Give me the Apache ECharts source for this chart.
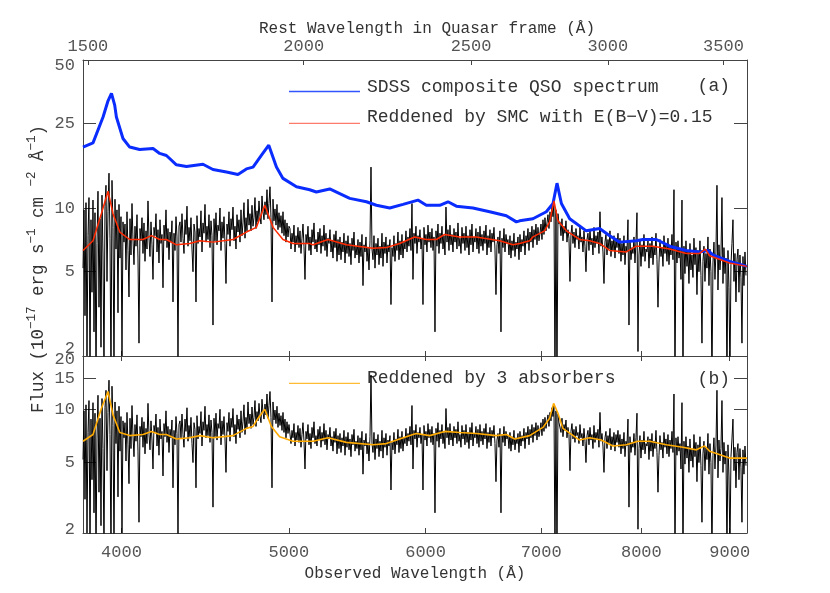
<!DOCTYPE html>
<html><head><meta charset="utf-8">
<script src="https://cdn.jsdelivr.net/npm/echarts@6/dist/echarts.min.js"></script>
<style>html,body{margin:0;padding:0;background:#fff}#c{width:830px;height:593px}</style>
</head><body><div id="c"></div>
<script>
// ---------- data ----------
const zQSO = 1.55;
const obsMin = 3800, obsMax = 9210;
const obsTicks = [4000, 5000, 6000, 7000, 8000, 9000];
const restTicks = [1500, 2000, 2500, 3000, 3500];
const fluxTicksA = [2, 5, 10, 25, 50];
const fluxTicksB = [2, 5, 10, 15, 20];

// SDSS composite QSO spectrum (blue)
const compWave = [3800,3851,3903,3929,3947,3964,3973,4008,4044,4098,4172,4209,4247,4304,4362,4459,4519,4601,4672,4725,4767,4820,4868,4918,4961,5051,5141,5187,5280,5423,5545,5619,5720,5822,5939,6006,6114,6182,6251,6391,6535,6682,6772,6802,6923,7048,7111,7149,7191,7271,7434,7567,7669,7771,7946,8017,8161,8307,8494,8646,8742,8801,8999,9210];
const compFlux = [19.4,20.3,26.9,32.1,34.8,30.6,26.9,21.3,19.4,18.9,19.1,18.1,17.7,16.0,15.7,16.1,15.2,14.8,14.4,15.3,15.6,17.7,19.8,15.6,13.8,12.6,12.2,11.9,12.3,11.1,10.7,10.3,10.0,10.4,10.9,10.3,10.3,10.7,10.2,10.0,9.6,9.2,8.6,8.7,8.9,9.6,10.5,13.1,10.5,8.9,7.8,8.0,7.4,6.9,7.0,7.1,7.1,6.6,6.3,6.2,6.3,6.0,5.6,5.3];

// Reddened by SMC with E(B-V)=0.15 (red)
const smcWave = [3800,3851,3894,3929,3955,3991,4044,4116,4163,4209,4247,4304,4381,4440,4519,4641,4725,4788,4842,4896,4961,5028,5141,5164,5268,5399,5594,5694,5796,5913,6006,6087,6155,6279,6420,6623,6741,6802,6893,6923,7032,7079,7120,7158,7239,7368,7467,7567,7669,7841,7946,8124,8307,8494,8646,8712,8762,8999,9210];
const smcFlux = [6.3,7.0,9.4,12.0,9.4,7.7,7.1,7.1,7.4,7.1,7.1,6.7,6.8,7.0,6.9,7.1,7.7,8.1,10.3,8.1,7.1,6.8,6.8,6.7,7.1,6.7,6.45,6.5,6.8,7.3,7.1,7.1,7.5,7.3,7.3,7.0,6.7,6.8,7.0,7.3,7.8,8.6,10.8,8.7,7.8,7.1,7.0,6.8,6.3,6.2,6.6,6.6,6.4,6.1,6.1,6.4,5.95,5.5,5.3];

// Reddened by 3 absorbers (orange)
const absWave = [3800,3851,3894,3929,3955,3991,4044,4116,4163,4209,4247,4304,4381,4440,4519,4641,4725,4767,4799,4842,4885,4939,5028,5164,5268,5399,5594,5694,5900,5927,6033,6155,6279,6420,6594,6682,6757,6893,7016,7079,7117,7158,7206,7368,7467,7584,7702,7841,7963,8088,8271,8456,8608,8704,8762,8999,9210];
const absFlux = [6.6,7.2,10.1,12.6,9.3,7.4,7.1,7.2,7.5,7.2,7.2,6.8,6.9,7.1,6.9,7.1,7.8,8.0,8.9,10.0,8.0,7.0,6.6,6.6,6.9,6.5,6.3,6.4,7.2,7.3,7.1,7.5,7.4,7.3,7.1,7.2,6.8,7.1,7.9,8.9,10.8,9.5,7.8,6.7,6.9,6.7,6.2,6.3,6.6,6.6,6.3,6.1,5.9,6.2,5.8,5.3,5.3];

// Observed quasar spectrum (black), log-uniform wavelength grid
const specStart = 3800, specLogStep = 0.000579;
const specFlux = [
5.2,9.8,3.1,10.6,2.0,7.4,11.2,1.6,8.8,4.0,10.9,2.6,9.5,1.5,6.8,12.0,3.4,
8.9,2.2,11.5,6.0,1.6,10.2,12.8,4.5,9.6,14.6,7.2,1.5,13.5,8.1,1.6,11.0,6.4,9.8,3.2,10.4,5.8,9.1,2.0,8.6,6.9,
8.4,5.1,9.6,6.3,3.8,8.9,6.0,10.5,7.1,5.4,8.2,6.6,9.3,5.8,2.3,8.0,7.0,9.0,6.1,8.5,
5.6,7.8,6.4,10.8,7.2,5.9,8.6,6.7,4.6,8.1,7.4,9.4,6.2,7.9,5.5,8.8,6.8,7.5,4.2,8.3,
7.0,9.8,6.5,8.0,5.7,7.7,6.9,8.7,3.6,7.6,6.3,9.1,7.3,1.9,8.2,
8.6,6.9,9.4,7.2,6.1,8.8,7.5,10.2,6.6,8.1,7.0,9.0,6.4,5.0,8.4,7.7,3.6,9.2,6.8,8.0,
7.3,9.7,6.2,8.5,7.6,10.4,6.9,8.2,7.1,9.3,6.5,8.7,7.4,2.8,8.9,7.0,9.5,6.7,8.3,7.8,
10.0,6.3,8.6,7.2,9.1,6.8,4.4,8.4,7.5,9.6,6.6,8.9,7.9,10.1,7.0,8.2,6.4,9.3,7.7,8.8,
6.9,9.8,7.4,8.5,10.6,7.2,9.0,7.8,11.0,8.3,
9.4,7.8,10.3,8.2,9.0,11.2,8.0,9.7,8.6,10.8,9.1,8.4,11.4,9.6,8.8,10.7,9.3,12.2,8.9,10.5,
12.6,9.0,3.6,11.0,8.7,9.9,8.3,10.4,7.9,9.5,8.1,9.2,7.6,9.6,7.4,8.8,6.9,8.5,7.3,8.2,
8.0,6.4,7.6,6.9,8.3,6.2,7.4,6.7,8.1,6.5,7.8,6.1,7.2,8.4,6.6,4.6,7.5,6.8,8.2,6.3,
7.3,6.0,7.9,6.9,8.5,6.4,7.1,6.2,7.7,6.7,8.0,6.1,7.4,6.6,8.3,6.3,7.6,5.9,7.2,6.8,
7.9,6.2,7.0,5.8,7.5,6.5,7.8,5.6,7.1,6.0,7.3,5.7,6.9,6.2,7.6,5.5,7.0,6.1,7.4,5.9,
6.8,5.4,7.2,6.3,7.7,5.8,6.6,6.0,7.1,5.5,6.9,5.9,7.5,4.3,6.7,6.2,7.3,5.6,6.5,5.1,
7.0,15.6,6.4,5.7,7.4,5.2,6.8,6.0,7.2,5.4,6.6,5.8,7.6,5.3,6.9,6.1,7.3,5.5,6.7,6.2,
7.1,3.5,6.5,5.9,7.4,5.6,6.8,6.3,7.7,5.7,7.0,6.0,7.5,5.8,6.9,6.4,7.8,6.2,7.3,6.6,
8.0,6.3,10.5,4.6,7.6,6.8,8.2,6.1,7.4,6.9,7.9,6.4,7.2,3.5,8.1,6.7,7.5,6.2,8.3,6.9,
7.7,6.5,8.0,6.3,7.3,2.6,7.8,6.6,8.4,6.1,7.6,6.8,8.2,6.4,7.4,6.0,10.1,6.9,7.9,6.3,
8.3,6.7,7.5,6.2,8.0,6.9,7.7,6.4,8.5,6.6,7.2,6.1,8.1,6.8,7.6,6.3,8.2,6.5,7.4,6.0,
7.9,6.7,8.4,6.2,7.3,6.9,8.0,6.4,7.7,6.1,8.2,6.6,7.5,6.3,7.8,6.8,8.3,6.0,7.4,6.5,
7.9,6.2,7.6,6.9,8.1,6.4,3.9,6.7,7.3,6.1,7.8,2.6,7.2,6.5,8.0,6.2,7.5,6.8,7.1,6.0,
7.4,5.8,7.0,6.3,7.6,5.9,6.9,6.4,7.3,5.7,7.5,6.2,7.1,6.6,7.8,6.0,7.4,6.8,8.0,6.3,
7.7,6.9,8.2,6.5,7.9,7.1,8.4,6.7,8.1,7.0,
7.6,8.4,7.1,8.8,7.5,9.0,7.8,8.5,9.3,8.0,9.6,8.6,10.2,9.1,10.6,1.5,9.8,1.5,9.4,8.4,
8.6,7.4,8.9,7.0,8.2,7.6,8.7,6.9,7.9,7.2,4.5,7.5,8.3,6.8,7.7,6.5,8.0,7.1,7.4,6.4,
8.2,6.9,7.3,6.2,7.8,6.6,5.0,7.1,7.6,6.3,7.9,6.7,7.2,6.0,8.1,6.5,7.4,6.8,7.7,6.1,
9.6,6.6,7.3,6.2,4.4,6.9,7.5,6.0,7.1,6.4,7.8,5.9,7.0,6.3,7.4,5.8,7.2,6.5,7.6,6.1,
7.2,5.6,6.8,6.0,7.4,5.4,6.6,6.2,8.8,2.8,7.0,5.7,6.5,6.1,7.3,5.5,6.9,9.5,2.1,6.0,
7.1,5.3,6.7,5.9,7.5,5.6,6.4,6.2,7.0,5.2,6.8,5.8,7.3,5.4,6.6,6.0,7.6,5.7,3.4,5.5,
7.1,5.9,6.5,5.3,7.4,6.1,6.8,5.6,7.2,5.4,6.7,6.0,7.5,5.7,12.2,1.5,6.9,5.5,7.0,5.8,
6.4,4.6,10.9,1.5,6.6,4.9,7.0,5.3,6.2,4.4,6.8,5.1,6.0,4.7,7.2,5.4,6.5,3.9,6.3,5.0,
7.0,4.8,2.3,5.6,6.6,4.5,6.1,5.2,7.3,4.3,6.4,5.0,1.5,5.5,6.9,4.6,6.2,12.8,4.1,6.7,
5.1,6.0,11.2,4.4,6.5,4.9,5.8,1.5,6.3,4.2,1.6,5.4,6.8,8.8,4.5,6.1,3.6,5.7,6.4,4.0,
6.0,4.7,2.3,5.9,4.3,6.2,4.8
];

// ---------- build ----------
const FONT = "'Liberation Mono','Courier New',monospace";
const pair = (w, f) => w.map((x, i) => [x, f[i]]);
const specData = specFlux.map((f, i) => [specStart * Math.pow(10, i * specLogStep), f]);
const compData = pair(compWave, compFlux);
const smcData = pair(smcWave, smcFlux);
const absData = pair(absWave, absFlux);

const AX = '#444', LBL = '#555', TXT = '#333';
const fmtInt = v => String(Math.round(v));
const EPS = 1.00002; // keeps end ticks inside the log extent despite rounding

function xAx(grid, pos, min, max, ticks, showLabel, name, gap, namePad) {
  return {
    gridIndex: grid, type: 'log', logBase: 10, min: min, max: max, position: pos,
    name: name || '', nameLocation: 'middle', nameGap: gap || 0,
    nameTextStyle: { fontFamily: FONT, fontSize: 16, color: TXT, padding: namePad || 0 },
    axisLine: { show: true, lineStyle: { color: AX, width: 1 } },
    axisTick: { show: true, inside: true, length: 5, customValues: ticks, lineStyle: { color: AX } },
    axisLabel: { show: showLabel, customValues: ticks, formatter: fmtInt, margin: pos === 'top' ? 5 : 11,
                 showMinLabel: true, showMaxLabel: true, hideOverlap: false,
                 fontFamily: FONT, fontSize: 17, color: LBL },
    splitLine: { show: false }, minorTick: { show: false }
  };
}
function yAx(grid, pos, min, max, ticks, showLabel, rich, fmt) {
  return {
    gridIndex: grid, type: 'log', logBase: 10, min: min / EPS, max: max * EPS, position: pos,
    axisLine: { show: true, lineStyle: { color: AX, width: 1 } },
    axisTick: { show: true, inside: true, length: 13, customValues: ticks, lineStyle: { color: AX } },
    axisLabel: { show: showLabel, customValues: ticks, formatter: fmt, margin: 8,
                 showMinLabel: true, showMaxLabel: true, hideOverlap: false,
                 fontFamily: FONT, fontSize: 17, color: LBL, rich: rich },
    splitLine: { show: false }, minorTick: { show: false }
  };
}
const richLbl = {
  dn10: { fontFamily: FONT, fontSize: 17, color: LBL, padding: [10, 0, 0, 0] },
  dn6:  { fontFamily: FONT, fontSize: 17, color: LBL, padding: [6, 0, 0, 0] },
  up14: { fontFamily: FONT, fontSize: 17, color: LBL, padding: [0, 0, 14, 0] },
  up6:  { fontFamily: FONT, fontSize: 17, color: LBL, padding: [0, 0, 6, 0] }
};
const fmtA = v => { const r = Math.round(v); if (r === 50) return '{dn10|50}'; if (r === 2) return '{up14|2}'; return String(r); };
const fmtB = v => { const r = Math.round(v); if (r === 20) return '{dn6|20}'; if (r === 2) return '{up6|2}'; return String(r); };

const lineSeries = (name, xi, yi, data, color, width, z) => ({
  name: name, type: 'line', xAxisIndex: xi, yAxisIndex: yi, data: data,
  symbol: 'none', showSymbol: false, silent: true, z: z, clip: true,
  lineStyle: { color: color, width: width }, itemStyle: { color: color }
});

const txt = (x, y, s, size, align) => ({
  type: 'text', x: x, y: y, silent: true,
  style: { text: s, fontFamily: FONT, fontSize: size, fill: TXT, align: align || 'left', verticalAlign: 'middle' }
});
const seg = (x1, x2, y, color, w) => ({
  type: 'line', silent: true, shape: { x1: x1, y1: y, x2: x2, y2: y }, style: { stroke: color, lineWidth: w || 1 }
});

const chart = echarts.init(document.getElementById('c'), null, { renderer: 'canvas' });
chart.setOption({
  animation: false,
  backgroundColor: '#fff',
  grid: [
    { left: 83, top: 60, width: 664, height: 296, containLabel: false, outerBoundsMode: 'none' },
    { left: 83, top: 356, width: 664, height: 177, containLabel: false, outerBoundsMode: 'none' }
  ],
  xAxis: [
    xAx(0, 'bottom', obsMin, obsMax, obsTicks, false),
    xAx(0, 'top', obsMin / (1 + zQSO), obsMax / (1 + zQSO), restTicks, true,
        'Rest Wavelength in Quasar frame (Å)', 23, [0, 0, 0, 24]),
    xAx(1, 'bottom', obsMin, obsMax, obsTicks, true, 'Observed Wavelength (Å)', 33),
    xAx(1, 'top', obsMin, obsMax, obsTicks, false)
  ],
  yAxis: [
    yAx(0, 'left', 2, 50, fluxTicksA, true, richLbl, fmtA),
    yAx(0, 'right', 2, 50, fluxTicksA, false),
    yAx(1, 'left', 2, 20, fluxTicksB, true, richLbl, fmtB),
    yAx(1, 'right', 2, 20, fluxTicksB, false)
  ],
  series: [
    lineSeries('Observed spectrum', 0, 0, specData, '#000', 1, 1),
    lineSeries('SDSS composite QSO spectrum', 0, 0, compData, '#0a2cff', 3, 3),
    lineSeries('Reddened by SMC with E(B−V)=0.15', 0, 0, smcData, '#ff2a00', 1.5, 4),
    lineSeries('Observed spectrum (b)', 2, 2, specData, '#000', 1, 1),
    lineSeries('Reddened by 3 absorbers', 2, 2, absData, '#ffaa00', 1.6, 3)
  ],
  graphic: [
    seg(289, 360, 91.5, '#3355ff', 1.5),
    txt(367, 87, 'SDSS composite QSO spectrum', 18),
    txt(730, 86, '(a)', 18, 'right'),
    seg(289, 360, 123.3, '#ff7a6a', 1.2),
    txt(367, 117, 'Reddened by SMC with E(B−V)=0.15', 18),
    seg(289, 360, 383.3, '#ffbb33', 1.2),
    txt(367, 378, 'Reddened by 3 absorbers', 18),
    txt(730, 379, '(b)', 18, 'right'),
    {
      type: 'text', x: 36, y: 269, rotation: Math.PI / 2, silent: true,
      style: {
        text: '{n|Flux (10}{s|−17}{n| erg s}{s|−1}{n| cm }{s|−2}{n| Å}{s|−1}{n|)}',
        align: 'center', verticalAlign: 'middle',
        rich: {
          n: { fontFamily: FONT, fontSize: 17.5, fill: TXT, verticalAlign: 'bottom', lineHeight: 22 },
          s: { fontFamily: FONT, fontSize: 12.5, fill: TXT, verticalAlign: 'top', lineHeight: 22 }
        }
      }
    }
  ]
});
</script>
</body></html>
